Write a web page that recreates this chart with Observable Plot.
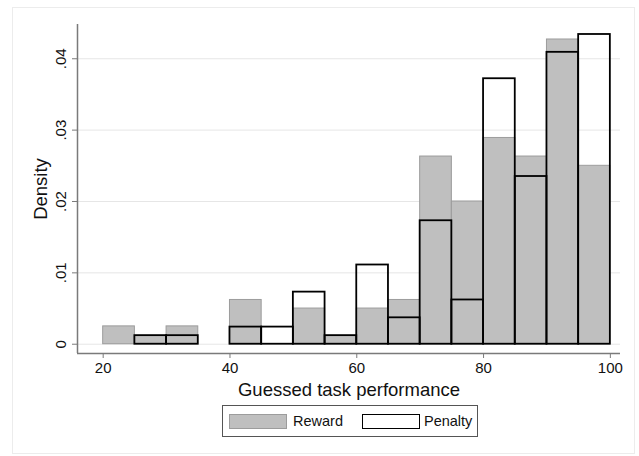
<!DOCTYPE html>
<html>
<head>
<meta charset="utf-8">
<script src="https://cdn.jsdelivr.net/npm/d3@7"></script>
<script src="https://cdn.jsdelivr.net/npm/@observablehq/plot@0.6"></script>
<style>
  html, body { margin: 0; padding: 0; background: #fff; }
  #wrap { position: relative; width: 639px; height: 456px; font-family: "Liberation Sans", Arial, Helvetica, sans-serif; }
  #outer { position: absolute; left: 12px; top: 7px; width: 623px; height: 447px; border: 1px solid #ececec; box-sizing: border-box; }
  #chart { position: absolute; left: 0; top: 0; }
  #chart svg { font-family: "Liberation Sans", Arial, Helvetica, sans-serif; }
  [aria-label="x-axis label"] text, [aria-label="y-axis label"] text { font-size: 18.5px; }
  #legend { position: absolute; left: 222px; top: 405px; width: 256px; height: 32px; border: 1px solid #555; box-sizing: border-box; }
  .sw { position: absolute; top: 8px; width: 58px; height: 15px; box-sizing: border-box; }
  .lab { position: absolute; top: 7px; font-size: 14.5px; line-height: 17px; color: #111; }
</style>
</head>
<body>
<div id="wrap">
  <div id="outer"></div>
  <div id="chart"></div>
  <div id="legend"></div>
</div>
<script>
// Bin left edges (width 5) for guessed task performance
const binStarts = [20, 25, 30, 35, 40, 45, 50, 55, 60, 65, 70, 75, 80, 85, 90, 95];
const binWidth = 5;
// Densities
const reward  = [0.0025, 0.0012, 0.0025, 0, 0.0062, 0, 0.0050, 0.0012, 0.0050, 0.0062, 0.0263, 0.0200, 0.0289, 0.0263, 0.0427, 0.0250];
const penalty = [0, 0.0012, 0.0012, 0, 0.0024, 0.0024, 0.0073, 0.0012, 0.0111, 0.0037, 0.0173, 0.0062, 0.0372, 0.0235, 0.0409, 0.0434];
const groups = ["Reward", "Penalty"];
const xTicks = [20, 40, 60, 80, 100];
const yTicks = [0, 0.01, 0.02, 0.03, 0.04];
const xDomain = [15.95, 101.6];
const yDomain = [-0.0013, 0.0448];

const rewardRows = binStarts.map((b, i) => ({x1: b, x2: b + binWidth, y: reward[i]})).filter(d => d.y > 0);
const penaltyRows = binStarts.map((b, i) => ({x1: b, x2: b + binWidth, y: penalty[i]})).filter(d => d.y > 0);

const yFmt = d => d === 0 ? "0" : d3.format(".2f")(d).replace(/^0/, "");

const chart = Plot.plot({
  width: 639,
  height: 400,
  marginLeft: 77,
  marginRight: 19,
  marginTop: 24,
  marginBottom: 47,
  x: {domain: xDomain},
  y: {domain: yDomain},
  marks: [
    Plot.gridY(yTicks, {stroke: "#e6e6e6", strokeOpacity: 1, strokeWidth: 1}),
    Plot.rectY(rewardRows, {x1: "x1", x2: "x2", y: "y", fill: "#bfbfbf", stroke: "#9c9c9c", strokeWidth: 1}),
    Plot.rectY(penaltyRows, {x1: "x1", x2: "x2", y: "y", fill: "none", stroke: "#000", strokeWidth: 1.8}),
    Plot.ruleY([yDomain[0]], {stroke: "#7a7a7a", strokeWidth: 1.5}),
    Plot.ruleX([xDomain[0]], {stroke: "#7a7a7a", strokeWidth: 1.5}),
    Plot.axisX(xTicks, {tickSize: 5, tickPadding: 4, fontSize: 15, stroke: "#7a7a7a", fill: "#111",
      label: "Guessed task performance", labelAnchor: "center", labelArrow: "none", labelOffset: 42}),
    Plot.axisY(yTicks, {tickSize: 5, tickPadding: 7, fontSize: 15, stroke: "#7a7a7a", fill: "#111",
      tickFormat: yFmt, tickRotate: -90,
      label: "Density", labelAnchor: "center", labelArrow: "none", labelOffset: 44})
  ]
});
document.getElementById("chart").appendChild(chart);

// Legend
const legend = document.getElementById("legend");
const legendSpec = [
  {name: groups[0], left: 6, fill: "#bfbfbf", border: "1.5px solid #9c9c9c", textLeft: 70},
  {name: groups[1], left: 139, fill: "#fff", border: "1.8px solid #000", textLeft: 201}
];
for (const s of legendSpec) {
  const sw = document.createElement("div");
  sw.className = "sw";
  sw.style.left = s.left + "px";
  sw.style.background = s.fill;
  sw.style.border = s.border;
  legend.appendChild(sw);
  const t = document.createElement("div");
  t.className = "lab";
  t.style.left = s.textLeft + "px";
  t.textContent = s.name;
  legend.appendChild(t);
}
</script>
</body>
</html>
